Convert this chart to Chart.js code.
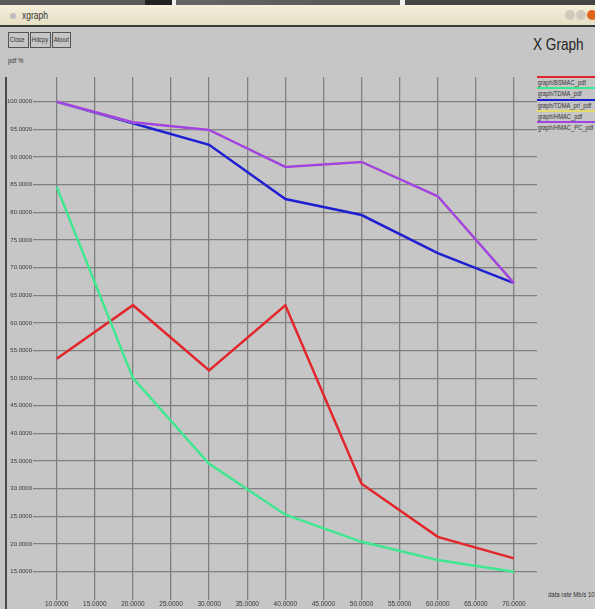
<!DOCTYPE html>
<html lang="en"><head>
<meta charset="utf-8">
<title>xgraph</title>
<script src="https://cdn.jsdelivr.net/npm/chart.js@4"></script>
<style>
*{box-sizing:border-box;margin:0;padding:0}
body{width:595px;height:609px;overflow:hidden;background:#c6c6c6;position:relative;font-family:"Liberation Sans",Arial,sans-serif;color:#333}
.desk{position:absolute;left:0;top:0;width:595px;height:5px;background:linear-gradient(90deg,#5a5a5a 0,#5a5a5a 145px,#222 145px,#222 172px,#eee 172px,#eee 176px,#666 176px,#555 400px,#eee 400px,#eee 405px,#444 405px)}
.titlebar{position:absolute;left:0;top:5px;width:595px;height:22px;background:linear-gradient(#f4efdc,#e6dfc3);border-bottom:2px solid #3a3a3a}
.titlebar .ico{position:absolute;left:10px;top:8px;width:6px;height:6px;border-radius:50%;background:#bbb}
.titlebar .t{position:absolute;left:22px;top:5px;font-size:10px;color:#333;transform:scaleX(.85);transform-origin:left}
.titlebar .w{position:absolute;top:5px;width:10px;height:10px;border-radius:50%}
.btns{position:absolute;left:8px;top:32px;display:flex}
.btns span{display:block;height:16px;border:1px solid #555;font-size:8px;line-height:14px;color:#333;margin-right:1px;overflow:hidden;white-space:nowrap}
.btns span i{display:inline-block;font-style:normal;transform:scaleX(.72);transform-origin:left;padding-left:1px}
.lbl{position:absolute;font-size:8px;color:#333;white-space:nowrap;transform:scaleX(.75);transform-origin:left}
.xg{position:absolute;left:533px;top:35px;font-size:17px;color:#222;white-space:nowrap;transform:scaleX(.8);transform-origin:left}
.leftline{position:absolute;left:5px;top:77px;width:2px;height:532px;background:#4a4a4a}
#legend{position:absolute;left:537px;top:76px;width:58px;overflow:hidden}
#legend div{height:11.3px;border-top:2px solid;font-size:8px;line-height:9px;color:#333;white-space:nowrap}
#legend div span{display:inline-block;transform:scaleX(.72);transform-origin:left;padding-left:1px}
canvas{position:absolute;left:0;top:0}
</style></head><body>
<div class="desk"></div>
<div class="titlebar"><div class="ico"></div><div class="t">xgraph</div>
  <div class="w" style="left:565px;background:#cfcabb"></div><div class="w" style="left:576px;background:#cfcabb"></div><div class="w" style="left:587px;background:#e0661e"></div></div>
<div class="btns"><span style="width:21px"><i>Close</i></span><span style="width:21px"><i>Hdcpy</i></span><span style="width:19px"><i>About</i></span></div>
<div class="lbl" style="left:8px;top:56px">pdf %</div>
<div class="xg">X Graph</div>
<div class="lbl" style="left:548px;top:590px">data rate Mb/s 10</div>
<div class="leftline"></div>
<div id="legend"></div>
<canvas id="c" width="595" height="609"></canvas>
<script>
const xValues=[10,20,30,40,50,60,70];
const xTicks=[10,15,20,25,30,35,40,45,50,55,60,65,70];
const yTicks=[15,20,25,30,35,40,45,50,55,60,65,70,75,80,85,90,95,100];
const seriesNames=['graph/BSMAC_pdf','graph/TDMA_pdf','graph/TDMA_pri_pdf','graph/HMAC_pdf','graph/HMAC_PC_pdf'];
const seriesColors=['#e3262b','#3fe890','#1f1fd2','#e4dc6a','#a043e6'];
const bsmac=[53.5,63.2,51.4,63.2,30.9,21.3,17.4];
const tdma=[84.6,50.0,34.5,25.3,20.4,17.1,15.0];
const tdmaPri=[100,96.1,92.2,82.4,79.5,72.6,67.2];
const hmac=[100,96.3,94.9,88.2,89.1,82.9,67.2];
const hmacPc=[100,96.3,94.9,88.2,89.1,82.9,67.2];
const series=[bsmac,tdma,tdmaPri,hmac,hmacPc];

document.getElementById('legend').innerHTML=seriesNames.map((n,i)=>
  '<div style="border-top-color:'+seriesColors[i]+'"><span>'+n+'</span></div>').join('');

const fam='"Liberation Sans",Arial,sans-serif';
const grid={color:'#808080',lineWidth:1.3,drawTicks:false};
new Chart(document.getElementById('c'),{type:'line',
  data:{datasets:series.map((s,i)=>({label:seriesNames[i],
    data:s.map((v,j)=>({x:xValues[j],y:v})),
    borderColor:seriesColors[i],borderWidth:2.5,pointRadius:0,tension:0,order:series.length-i}))},
  options:{responsive:false,animation:false,
    layout:{padding:{top:77,right:58,left:0,bottom:0}},
    plugins:{legend:{display:false},tooltip:{enabled:false}},
    scales:{
      x:{type:'linear',min:6.89,max:73.02,border:{display:false},grid,
        afterBuildTicks:s=>{s.ticks=xTicks.map(v=>({value:v}))},
        afterFit:s=>{s.height=9},
        ticks:{font:{family:fam,size:6.5},color:'#3a3a3a',padding:0,maxRotation:0,autoSkip:false,callback:v=>v.toFixed(4)}},
      y:{min:9.88,max:104.47,border:{display:false},grid,
        afterBuildTicks:s=>{s.ticks=yTicks.map(v=>({value:v}))},
        afterFit:s=>{s.width=33},
        ticks:{font:{family:fam,size:6},color:'#3a3a3a',padding:1,autoSkip:false,callback:v=>v.toFixed(4)}}
    }}});
</script></body></html>
